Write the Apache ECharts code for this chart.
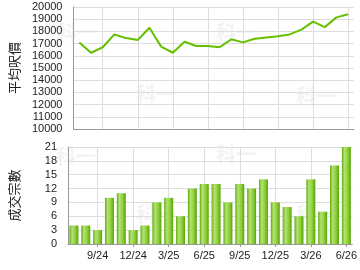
<!DOCTYPE html>
<html><head><meta charset="utf-8">
<script src="https://cdn.jsdelivr.net/npm/echarts@6/dist/echarts.min.js"></script>
<style>html,body{margin:0;padding:0;background:#fff}#c{width:360px;height:270px}</style>
</head><body><div id="c"></div>
<script>
const months = ['7/24','8/24','9/24','10/24','11/24','12/24','1/25','2/25','3/25','4/25','5/25','6/25',
                '7/25','8/25','9/25','10/25','11/25','12/25','1/26','2/26','3/26','4/26','5/26','6/26'];
const avgPrice = [17100,16250,16700,17750,17450,17300,18300,16750,16250,17150,16800,16800,
                  16700,17350,17100,17400,17500,17600,17750,18150,18800,18350,19150,19400];
const deals = [4,4,3,10,11,3,4,9,10,6,12,13,13,9,13,12,14,9,8,6,14,7,17,21];
const priceAxisName = '平均呎價';
const dealsAxisName = '成交宗數';
const watermark = '科一';

const FONT = "'Liberation Sans', Arial, sans-serif";
const showEvery3 = (i) => i % 3 === 2;
const chart = echarts.init(document.getElementById('c'), null, {renderer: 'canvas'});

const wmPos = [[57,22],[136,84],[216,22],[296,86],[56,146],[136,204],[216,144],[296,204]];
const graphics = wmPos.map(p => ({
  type: 'text', left: p[0], top: p[1], z: -10, silent: true,
  style: {text: watermark, fill: '#f3f3f3', font: "bold 20px 'Noto Sans CJK TC'"}
}));

const xCommon = (idx, showLabels) => ({
  type: 'category', gridIndex: idx, data: months, boundaryGap: true,
  axisLine: {lineStyle: {color: '#999', width: 1}},
  axisTick: {show: showLabels, alignWithLabel: true, interval: showEvery3, length: 3, lineStyle: {color: '#999'}},
  axisLabel: {show: showLabels, interval: showEvery3, color: '#222', fontSize: 11, fontFamily: FONT, margin: 6},
  splitLine: {show: true, alignWithLabel: true, interval: showEvery3, lineStyle: {color: '#ddd', width: 1}}
});

const yCommon = (idx, name, min, max, interval) => ({
  type: 'value', gridIndex: idx, min: min, max: max, interval: interval,
  name: name, nameLocation: 'middle', nameGap: 47, nameRotate: 90,
  nameTextStyle: {fontSize: 13, color: '#222', fontFamily: "'Noto Sans CJK TC'"},
  axisLine: {show: true, lineStyle: {color: '#999'}}, axisTick: {show: false},
  axisLabel: {color: '#222', fontSize: 11, fontFamily: FONT, margin: 11, formatter: v => String(v)},
  splitLine: {lineStyle: {color: '#ddd'}}
});

chart.setOption({
  animation: false,
  backgroundColor: '#fff',
  graphic: graphics,
  grid: [
    {left: 66, right: 6, top: 7, height: 122},
    {left: 66, right: 6, top: 147, height: 97}
  ],
  xAxis: [xCommon(0, false), xCommon(1, true)],
  yAxis: [
    yCommon(0, priceAxisName, 10000, 20000, 1000),
    yCommon(1, dealsAxisName, 0, 21, 3)
  ],
  series: [
    {type: 'line', xAxisIndex: 0, yAxisIndex: 0, data: avgPrice, symbol: 'none',
     lineStyle: {color: '#66bf00', width: 2}},
    {type: 'bar', xAxisIndex: 1, yAxisIndex: 1, data: deals, barWidth: 9,
     itemStyle: {color: new echarts.graphic.LinearGradient(0, 0, 1, 0, [
       {offset: 0, color: '#5fae0c'},
       {offset: 0.3, color: '#b4e274'},
       {offset: 0.65, color: '#8fcf3c'},
       {offset: 1, color: '#58a504'}
     ])}}
  ]
});
</script></body></html>
